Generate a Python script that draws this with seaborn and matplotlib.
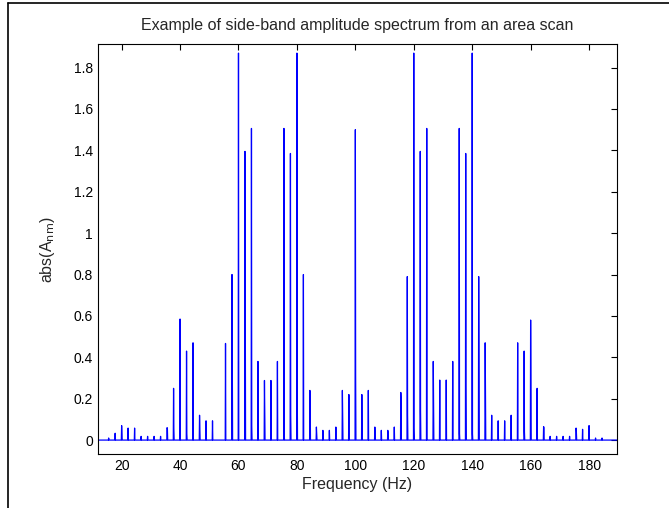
import numpy as np
import pandas as pd
import matplotlib
matplotlib.use("Agg")
import matplotlib.pyplot as plt
from matplotlib.lines import Line2D
import seaborn as sns

# =========================
# Spectrum peaks
# =========================
freqs = [15.56, 17.78, 20.00, 22.22, 24.44, 26.67, 28.89, 31.11, 33.33, 35.56,
         37.78, 40.00, 42.22, 44.44, 46.67, 48.89, 51.11, 53.33, 55.56, 57.78,
         60.00, 62.22, 64.44, 66.67, 68.89, 71.11, 73.33, 75.56, 77.78, 80.00,
         82.22, 84.44, 86.67, 88.89, 91.11, 93.33, 95.56, 97.78, 100.00, 102.22,
         104.44, 106.67, 108.89, 111.11, 113.33, 115.56, 117.78, 120.00, 122.22, 124.44,
         126.67, 128.89, 131.11, 133.33, 135.56, 137.78, 140.00, 142.22, 144.44, 146.67,
         148.89, 151.11, 153.33, 155.56, 157.78, 160.00, 162.22, 164.44, 166.67, 168.89,
         171.11, 173.33, 175.56, 177.78, 180.00, 182.22, 184.44]

peak_amp = [0.010, 0.033, 0.070, 0.058, 0.058, 0.018, 0.018, 0.018, 0.018, 0.060,
            0.250, 0.585, 0.430, 0.470, 0.120, 0.093, 0.093, 0.000, 0.467, 0.800,
            1.870, 1.395, 1.506, 0.380, 0.288, 0.288, 0.380, 1.506, 1.385, 1.870,
            0.800, 0.240, 0.063, 0.047, 0.047, 0.063, 0.240, 0.220, 1.500, 0.220,
            0.240, 0.063, 0.047, 0.047, 0.063, 0.230, 0.790, 1.870, 1.395, 1.506,
            0.380, 0.290, 0.290, 0.380, 1.506, 1.385, 1.870, 0.790, 0.470, 0.120,
            0.093, 0.093, 0.120, 0.470, 0.430, 0.580, 0.250, 0.065, 0.018, 0.018,
            0.018, 0.018, 0.058, 0.052, 0.070, 0.010, 0.010]

# neighbouring bin (leakage) next to each peak
shoulder_amp = [0.000, 0.000, 0.033, 0.000, 0.000, 0.000, 0.000, 0.000, 0.000, 0.055,
                0.055, 0.000, 0.030, 0.000, 0.060, 0.000, 0.000, 0.000, 0.000, 0.430,
                0.000, 0.710, 0.068, 0.000, 0.146, 0.000, 0.000, 0.020, 0.120, 0.290,
                0.000, 0.190, 0.035, 0.000, 0.000, 0.000, 0.120, 0.000, 0.310, 0.068,
                0.000, 0.035, 0.000, 0.035, 0.000, 0.190, 0.120, 0.057, 0.140, 0.000,
                0.200, 0.000, 0.000, 0.000, 0.030, 0.260, 0.030, 0.440, 0.200, 0.000,
                0.000, 0.000, 0.000, 0.000, 0.040, 0.300, 0.000, 0.060, 0.000, 0.000,
                0.000, 0.000, 0.037, 0.000, 0.000, 0.000, 0.000]

x_range = [11.8, 189.5]

# =========================
# Build the spectrum polyline
# =========================
bin_w = 0.1
xs = [x_range[0]]
ys = [0.0]
for f, a, s in zip(freqs, peak_amp, shoulder_amp):
    xs += [f - bin_w, f, f + bin_w, f + 2 * bin_w]
    ys += [0.0, a, s, 0.0]
xs.append(x_range[1])
ys.append(0.0)
df = pd.DataFrame({"freq": xs, "amp": ys})

# =========================
# Plot
# =========================
sns.set_style("white")
plt.rcParams["font.family"] = ["Liberation Sans", "DejaVu Sans"]

fig = plt.figure(figsize=(6.69, 5.08), dpi=100)
ax = fig.add_axes([0.146, 0.106, 0.776, 0.807])

sns.lineplot(data=df, x="freq", y="amp", sort=False, estimator=None,
             color="blue", linewidth=0.9, ax=ax)

ax.set_xlim(x_range)
ax.set_ylim(-0.068, 1.913)
ax.set_xticks(np.arange(20, 181, 20))
ax.set_yticks(np.arange(0, 1.81, 0.2))
ax.set_yticklabels([f"{v:g}" for v in np.round(np.arange(0, 1.81, 0.2), 1)])

ax.tick_params(direction="in", length=4, width=0.8, top=True, right=True,
               labelsize=10, colors="black")
for sp in ax.spines.values():
    sp.set_color("black")
    sp.set_linewidth(0.8)

ax.set_title("Example of side-band amplitude spectrum from an area scan",
             fontsize=11.5, pad=10)
ax.set_xlabel("Frequency (Hz)", fontsize=11.5, labelpad=3)
ax.set_ylabel("abs(A$_{\\mathrm{nm}}$)", fontsize=11.5, labelpad=12)

# screenshot frame edges
fig.add_artist(Line2D([8 / 669, 8 / 669], [0, 1 - 3 / 508], color="black", lw=1.2))
fig.add_artist(Line2D([8 / 669, 1], [1 - 3 / 508, 1 - 3 / 508], color="black", lw=1.2))

fig.savefig("out.png", dpi=100)
